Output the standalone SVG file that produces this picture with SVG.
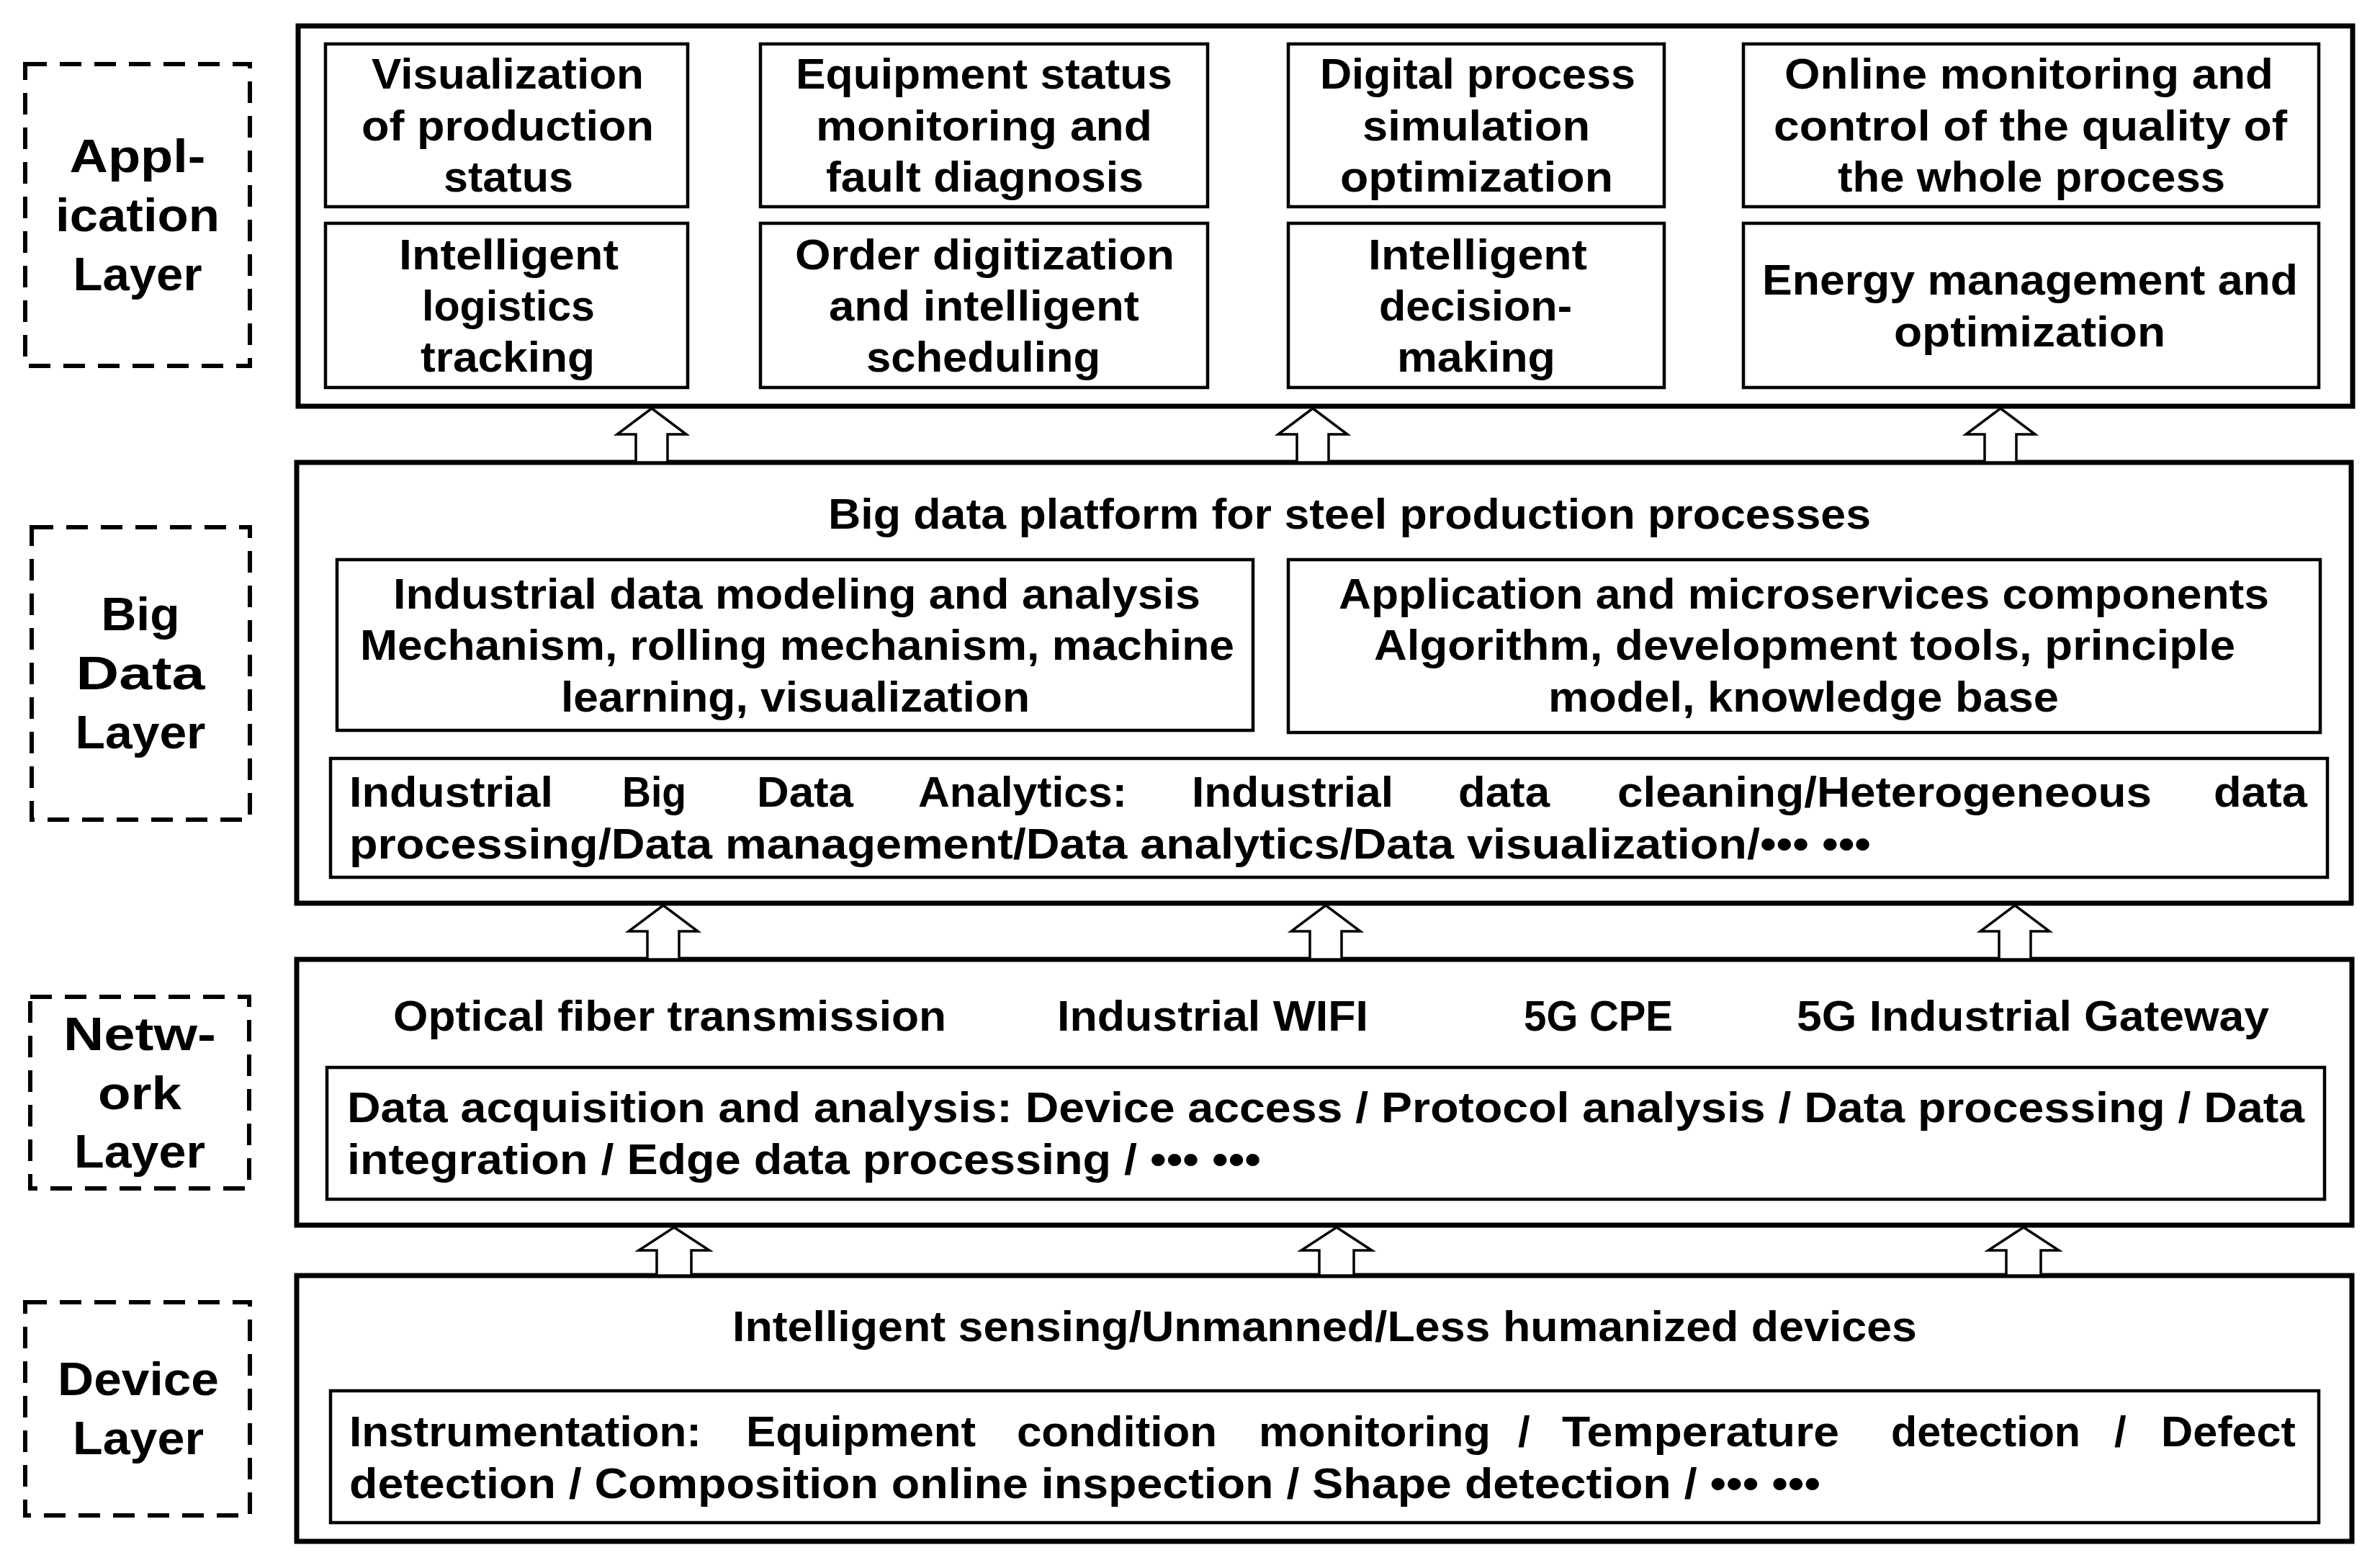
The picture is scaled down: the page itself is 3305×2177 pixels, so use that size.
<svg xmlns="http://www.w3.org/2000/svg" width="3305" height="2177" viewBox="0 0 3305 2177">
<style>
.bg{fill:#fff}
.outer{fill:none;stroke:#000;stroke-width:7}
.inner{fill:none;stroke:#000;stroke-width:4.5}
.dash{fill:none;stroke:#000;stroke-width:6;stroke-dasharray:30 18}
.arr{fill:#fff;stroke:#000;stroke-width:3.5;stroke-linejoin:miter}
text{font-family:"Liberation Sans",Arial,sans-serif;font-weight:700;fill:#000}
.t{font-size:60px}
.lbl{font-size:64px;text-anchor:middle}
</style>
<rect class="bg" x="0" y="0" width="3305" height="2177"/>

<!-- Application layer -->
<g id="application-label">
<rect class="dash" x="35" y="89" width="312" height="419"/>
<text class="lbl" x="191" y="239" textLength="189" lengthAdjust="spacingAndGlyphs">Appl-</text>
<text class="lbl" x="191" y="321" textLength="228" lengthAdjust="spacingAndGlyphs">ication</text>
<text class="lbl" x="191" y="403" textLength="179" lengthAdjust="spacingAndGlyphs">Layer</text>
</g>
<g id="application-layer">
<rect class="outer" x="414" y="36" width="2853" height="528"/>
</g>
<g id="app-visualization">
<rect class="inner" x="452" y="61" width="503" height="226"/>
<text class="t" x="516" y="123" textLength="378" lengthAdjust="spacingAndGlyphs">Visualization</text>
<text class="t" x="502" y="195" textLength="406" lengthAdjust="spacingAndGlyphs">of production</text>
<text class="t" x="616" y="266" textLength="180" lengthAdjust="spacingAndGlyphs">status</text>
</g>
<g id="app-logistics">
<rect class="inner" x="452" y="310" width="503" height="228"/>
<text class="t" x="554" y="374" textLength="305" lengthAdjust="spacingAndGlyphs">Intelligent</text>
<text class="t" x="586" y="445" textLength="240" lengthAdjust="spacingAndGlyphs">logistics</text>
<text class="t" x="584" y="516" textLength="242" lengthAdjust="spacingAndGlyphs">tracking</text>
</g>
<g id="app-equipment">
<rect class="inner" x="1056" y="61" width="621" height="226"/>
<text class="t" x="1105" y="123" textLength="523" lengthAdjust="spacingAndGlyphs">Equipment status</text>
<text class="t" x="1133" y="195" textLength="467" lengthAdjust="spacingAndGlyphs">monitoring and</text>
<text class="t" x="1147" y="266" textLength="441" lengthAdjust="spacingAndGlyphs">fault diagnosis</text>
</g>
<g id="app-order">
<rect class="inner" x="1056" y="310" width="621" height="228"/>
<text class="t" x="1104" y="374" textLength="527" lengthAdjust="spacingAndGlyphs">Order digitization</text>
<text class="t" x="1151" y="445" textLength="431" lengthAdjust="spacingAndGlyphs">and intelligent</text>
<text class="t" x="1203" y="516" textLength="325" lengthAdjust="spacingAndGlyphs">scheduling</text>
</g>
<g id="app-digital">
<rect class="inner" x="1789" y="61" width="522" height="226"/>
<text class="t" x="1833" y="123" textLength="438" lengthAdjust="spacingAndGlyphs">Digital process</text>
<text class="t" x="1892" y="195" textLength="316" lengthAdjust="spacingAndGlyphs">simulation</text>
<text class="t" x="1861" y="266" textLength="379" lengthAdjust="spacingAndGlyphs">optimization</text>
</g>
<g id="app-decision">
<rect class="inner" x="1789" y="310" width="522" height="228"/>
<text class="t" x="1900" y="374" textLength="304" lengthAdjust="spacingAndGlyphs">Intelligent</text>
<text class="t" x="1915" y="445" textLength="268" lengthAdjust="spacingAndGlyphs">decision-</text>
<text class="t" x="1940" y="516" textLength="220" lengthAdjust="spacingAndGlyphs">making</text>
</g>
<g id="app-quality">
<rect class="inner" x="2421" y="61" width="799" height="226"/>
<text class="t" x="2478" y="123" textLength="679" lengthAdjust="spacingAndGlyphs">Online monitoring and</text>
<text class="t" x="2463" y="195" textLength="713" lengthAdjust="spacingAndGlyphs">control of the quality of</text>
<text class="t" x="2552" y="266" textLength="538" lengthAdjust="spacingAndGlyphs">the whole process</text>
</g>
<g id="app-energy">
<rect class="inner" x="2421" y="310" width="799" height="228"/>
<text class="t" x="2447" y="409" textLength="744" lengthAdjust="spacingAndGlyphs">Energy management and</text>
<text class="t" x="2630" y="481" textLength="377" lengthAdjust="spacingAndGlyphs">optimization</text>
</g>

<!-- Big data layer -->
<g id="bigdata-label">
<rect class="dash" x="44" y="732" width="303" height="406"/>
<text class="lbl" x="195" y="875" textLength="109" lengthAdjust="spacingAndGlyphs">Big</text>
<text class="lbl" x="195" y="957" textLength="179" lengthAdjust="spacingAndGlyphs">Data</text>
<text class="lbl" x="195" y="1039" textLength="181" lengthAdjust="spacingAndGlyphs">Layer</text>
</g>
<g id="bigdata-layer">
<rect class="outer" x="412" y="642" width="2853" height="612"/>
<text class="t" x="1150" y="734" textLength="1448" lengthAdjust="spacingAndGlyphs">Big data platform for steel production processes</text>
</g>
<g id="bigdata-modeling">
<rect class="inner" x="468" y="777" width="1272" height="237"/>
<text class="t" x="546" y="845" textLength="1121" lengthAdjust="spacingAndGlyphs">Industrial data modeling and analysis</text>
<text class="t" x="500" y="916" textLength="1214" lengthAdjust="spacingAndGlyphs">Mechanism, rolling mechanism, machine</text>
<text class="t" x="779" y="988" textLength="651" lengthAdjust="spacingAndGlyphs">learning, visualization</text>
</g>
<g id="bigdata-microservices">
<rect class="inner" x="1789" y="777" width="1433" height="240"/>
<text class="t" x="1859" y="845" textLength="1292" lengthAdjust="spacingAndGlyphs">Application and microservices components</text>
<text class="t" x="1908" y="916" textLength="1196" lengthAdjust="spacingAndGlyphs">Algorithm, development tools, principle</text>
<text class="t" x="2150" y="988" textLength="709" lengthAdjust="spacingAndGlyphs">model, knowledge base</text>
</g>
<g id="bigdata-analytics">
<rect class="inner" x="459" y="1053" width="2773" height="165"/>
<text class="t" x="485" y="1120" textLength="283" lengthAdjust="spacingAndGlyphs">Industrial</text>
<text class="t" x="864" y="1120" textLength="89" lengthAdjust="spacingAndGlyphs">Big</text>
<text class="t" x="1051" y="1120" textLength="134" lengthAdjust="spacingAndGlyphs">Data</text>
<text class="t" x="1275" y="1120" textLength="290" lengthAdjust="spacingAndGlyphs">Analytics:</text>
<text class="t" x="1655" y="1120" textLength="280" lengthAdjust="spacingAndGlyphs">Industrial</text>
<text class="t" x="2025" y="1120" textLength="127" lengthAdjust="spacingAndGlyphs">data</text>
<text class="t" x="2246" y="1120" textLength="742" lengthAdjust="spacingAndGlyphs">cleaning/Heterogeneous</text>
<text class="t" x="3074" y="1120" textLength="130" lengthAdjust="spacingAndGlyphs">data</text>
<text class="t" x="485" y="1192" textLength="2113" lengthAdjust="spacingAndGlyphs">processing/Data management/Data analytics/Data visualization/••• •••</text>
</g>

<!-- Network layer -->
<g id="network-label">
<rect class="dash" x="42" y="1384" width="304" height="266"/>
<text class="lbl" x="194" y="1458" textLength="212" lengthAdjust="spacingAndGlyphs">Netw-</text>
<text class="lbl" x="194" y="1540" textLength="116" lengthAdjust="spacingAndGlyphs">ork</text>
<text class="lbl" x="194" y="1621" textLength="182" lengthAdjust="spacingAndGlyphs">Layer</text>
</g>
<g id="network-layer">
<rect class="outer" x="412" y="1332" width="2854" height="369"/>
<text class="t" x="546" y="1431" textLength="768" lengthAdjust="spacingAndGlyphs">Optical fiber transmission</text>
<text class="t" x="1468" y="1431" textLength="432" lengthAdjust="spacingAndGlyphs">Industrial WIFI</text>
<text class="t" x="2116" y="1431" textLength="207" lengthAdjust="spacingAndGlyphs">5G CPE</text>
<text class="t" x="2495" y="1431" textLength="656" lengthAdjust="spacingAndGlyphs">5G Industrial Gateway</text>
</g>
<g id="network-acquisition">
<rect class="inner" x="454" y="1482" width="2774" height="183"/>
<text class="t" x="482" y="1558" textLength="2718" lengthAdjust="spacingAndGlyphs">Data acquisition and analysis: Device access / Protocol analysis / Data processing / Data</text>
<text class="t" x="482" y="1630" textLength="1269" lengthAdjust="spacingAndGlyphs">integration / Edge data processing / ••• •••</text>
</g>

<!-- Device layer -->
<g id="device-label">
<rect class="dash" x="35" y="1808" width="312" height="296"/>
<text class="lbl" x="192" y="1937" textLength="224" lengthAdjust="spacingAndGlyphs">Device</text>
<text class="lbl" x="192" y="2019" textLength="182" lengthAdjust="spacingAndGlyphs">Layer</text>
</g>
<g id="device-layer">
<rect class="outer" x="412" y="1771" width="2854" height="369"/>
<text class="t" x="1017" y="1862" textLength="1645" lengthAdjust="spacingAndGlyphs">Intelligent sensing/Unmanned/Less humanized devices</text>
</g>
<g id="device-instrumentation">
<rect class="inner" x="459" y="1931" width="2761" height="183"/>
<text class="t" x="485" y="2008" textLength="489" lengthAdjust="spacingAndGlyphs">Instrumentation:</text>
<text class="t" x="1036" y="2008" textLength="319" lengthAdjust="spacingAndGlyphs">Equipment</text>
<text class="t" x="1412" y="2008" textLength="278" lengthAdjust="spacingAndGlyphs">condition</text>
<text class="t" x="1748" y="2008" textLength="322" lengthAdjust="spacingAndGlyphs">monitoring</text>
<text class="t" x="2108" y="2008">/</text>
<text class="t" x="2169" y="2008" textLength="385" lengthAdjust="spacingAndGlyphs">Temperature</text>
<text class="t" x="2626" y="2008" textLength="263" lengthAdjust="spacingAndGlyphs">detection</text>
<text class="t" x="2936" y="2008">/</text>
<text class="t" x="3001" y="2008" textLength="187" lengthAdjust="spacingAndGlyphs">Defect</text>
<text class="t" x="485" y="2080" textLength="2043" lengthAdjust="spacingAndGlyphs">detection / Composition online inspection / Shape detection / ••• •••</text>
</g>

<!-- Connectors -->
<g id="connectors">
<polygon class="arr" points="905,567 953,603 927,603 927,642 883,642 883,603 857,603"/>
<polygon class="arr" points="1823,567 1871,603 1845,603 1845,642 1801,642 1801,603 1775,603"/>
<polygon class="arr" points="2778,567 2826,603 2800,603 2800,642 2756,642 2756,603 2730,603"/>
<polygon class="arr" points="921,1257 969,1293 943,1293 943,1332 899,1332 899,1293 873,1293"/>
<polygon class="arr" points="1841,1257 1889,1293 1863,1293 1863,1332 1819,1332 1819,1293 1793,1293"/>
<polygon class="arr" points="2798,1257 2846,1293 2820,1293 2820,1332 2776,1332 2776,1293 2750,1293"/>
<polygon class="arr" points="936,1704 985,1736 960,1736 960,1771 912,1771 912,1736 887,1736"/>
<polygon class="arr" points="1856,1704 1905,1736 1880,1736 1880,1771 1832,1771 1832,1736 1807,1736"/>
<polygon class="arr" points="2810,1704 2859,1736 2834,1736 2834,1771 2786,1771 2786,1736 2761,1736"/>
</g>
</svg>
